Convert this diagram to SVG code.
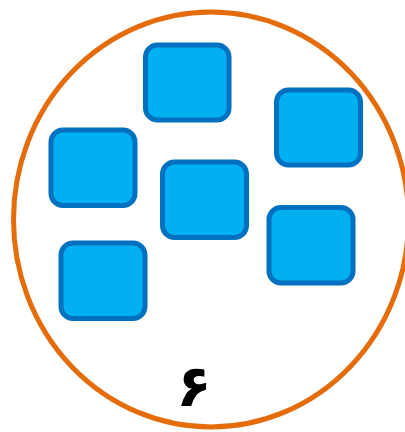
<svg xmlns="http://www.w3.org/2000/svg" width="405" height="432" viewBox="0 0 405 432">
<style>
.box{fill:#00B0F0;stroke:#0070C0;stroke-width:5}
.lbl{font-family:"DejaVu Sans",sans-serif;font-weight:bold;font-size:58px;fill:#000}
</style>
<rect width="405" height="432" fill="#fff"/>
<g id="set">
<ellipse cx="211" cy="219.5" rx="197.5" ry="207.5" fill="none" stroke="#E46C0A" stroke-width="5"/>
</g>
<g id="n1"><rect class="box" x="145.5" y="45" width="83.5" height="75" rx="12"/></g>
<g id="n2"><rect class="box" x="276.5" y="90" width="84" height="75" rx="12"/></g>
<g id="n3"><rect class="box" x="51" y="130" width="84" height="75.5" rx="12"/></g>
<g id="n4"><rect class="box" x="162.5" y="162" width="84" height="75.5" rx="12"/></g>
<g id="n5"><rect class="box" x="269" y="207.5" width="84" height="75.5" rx="12"/></g>
<g id="n6"><rect class="box" x="61" y="243" width="84" height="75.5" rx="12"/></g>
<g id="label"><text class="lbl" x="194" y="406" text-anchor="middle">۶</text></g>
<g id="connectors"/>
</svg>
